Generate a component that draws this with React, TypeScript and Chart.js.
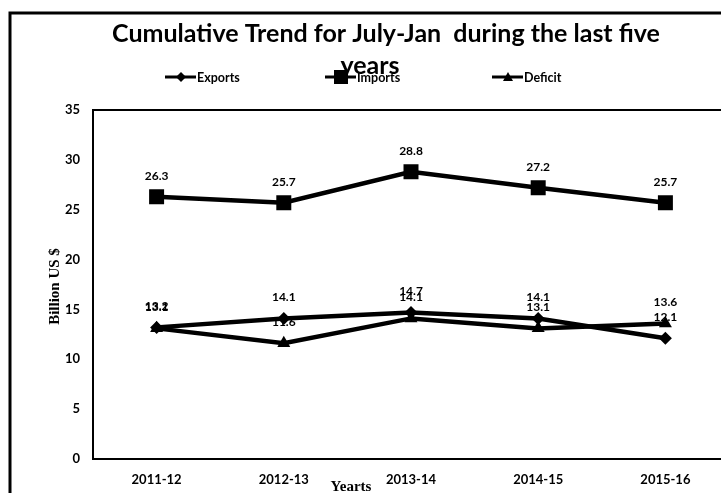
import React, { useEffect, useRef } from "react";
import { Chart, registerables } from "chart.js";

Chart.register(...registerables);

const categories = ["2011-12", "2012-13", "2013-14", "2014-15", "2015-16"];
const exportsValues = [13.2, 14.1, 14.7, 14.1, 12.1];
const importsValues = [26.3, 25.7, 28.8, 27.2, 25.7];
const deficitValues = [13.1, 11.6, 14.1, 13.1, 13.6];
const seriesNames = ["Exports", "Imports", "Deficit"];
const titleLines = ["Cumulative Trend for July-Jan  during the last five", "years"];
const yTitle = "Billion US $";
const xTitle = "Yearts";

const SANS = "Lato, 'Open Sans', sans-serif";
const SERIF = "'Liberation Serif', 'DejaVu Serif', serif";

function drawMarker(ctx: CanvasRenderingContext2D, style: string, x: number, y: number, r: number) {
  ctx.beginPath();
  if (style === "rectRot") {
    ctx.moveTo(x, y - r);
    ctx.lineTo(x + r, y);
    ctx.lineTo(x, y + r);
    ctx.lineTo(x - r, y);
    ctx.closePath();
  } else if (style === "rect") {
    ctx.rect(x - r, y - r, 2 * r, 2 * r);
  } else {
    ctx.moveTo(x, y - r);
    ctx.lineTo(x + r, y + r * 0.8);
    ctx.lineTo(x - r, y + r * 0.8);
    ctx.closePath();
  }
  ctx.fill();
}

const decorPlugin = {
  id: "decor",
  beforeDraw(chart: any) {
    const ctx = chart.ctx;
    ctx.save();
    ctx.fillStyle = "#ffffff";
    ctx.fillRect(0, 0, chart.width, chart.height);
    ctx.restore();
  },
  afterDraw(chart: any) {
    const ctx: CanvasRenderingContext2D = chart.ctx;
    const a = chart.chartArea;
    ctx.save();
    // outer frame
    ctx.strokeStyle = "#000";
    ctx.lineWidth = 3;
    ctx.beginPath();
    ctx.moveTo(10, chart.height);
    ctx.lineTo(10, 13);
    ctx.lineTo(chart.width, 13);
    ctx.stroke();
    // plot border
    ctx.lineWidth = 2;
    ctx.strokeRect(a.left, a.top, a.right - a.left, a.bottom - a.top);

    // title
    ctx.fillStyle = "#000";
    ctx.textAlign = "center";
    ctx.textBaseline = "middle";
    ctx.font = `bold 25px ${SANS}`;
    ctx.fillText(titleLines[0], 386, 34);
    ctx.fillText(titleLines[1], 370, 66);

    // legend
    const legendX = [165, 325, 492];
    const styles = ["rectRot", "rect", "triangle"];
    const sizes = [5, 7, 5];
    ctx.font = `bold 12.5px ${SANS}`;
    ctx.textAlign = "left";
    for (let i = 0; i < 3; i++) {
      const lx = legendX[i];
      const ly = 77;
      ctx.lineWidth = 3;
      ctx.beginPath();
      ctx.moveTo(lx, ly);
      ctx.lineTo(lx + 31, ly);
      ctx.stroke();
      drawMarker(ctx, styles[i], lx + 16, ly, sizes[i]);
      ctx.fillText(seriesNames[i], lx + 32, ly + 1);
    }

    // data labels
    ctx.font = `bold 12px ${SANS}`;
    ctx.textAlign = "center";
    chart.data.datasets.forEach((ds: any, di: number) => {
      const meta = chart.getDatasetMeta(di);
      meta.data.forEach((pt: any, i: number) => {
        ctx.fillText(String(ds.data[i]), pt.x, pt.y - 21);
      });
    });

    // axis titles
    ctx.font = `bold 15px ${SERIF}`;
    ctx.fillText(xTitle, 351, 487);
    ctx.translate(55, (a.top + a.bottom) / 2 + 2);
    ctx.rotate(-Math.PI / 2);
    ctx.fillText(yTitle, 0, 0);
    ctx.restore();
  },
};

export default function App() {
  const ref = useRef<HTMLCanvasElement>(null);
  useEffect(() => {
    if (!ref.current) return;
    const common = { borderColor: "#000", backgroundColor: "#000", borderWidth: 4.5, pointBackgroundColor: "#000", pointBorderColor: "#000", pointBorderWidth: 0, tension: 0 };
    const chart = new Chart(ref.current, {
      type: "line",
      data: {
        labels: categories,
        datasets: [
          { ...common, label: seriesNames[0], data: exportsValues, pointStyle: "rectRot", pointRadius: 6.5 },
          { ...common, label: seriesNames[1], data: importsValues, pointStyle: "rect", pointRadius: 10.6 },
          { ...common, label: seriesNames[2], data: deficitValues, pointStyle: "triangle", pointRadius: 7.5 },
        ],
      },
      options: {
        responsive: false,
        maintainAspectRatio: false,
        animation: false,
        layout: { padding: { left: 10, top: 110, right: 11, bottom: 0 } },
        plugins: { legend: { display: false }, title: { display: false }, tooltip: { enabled: false } },
        scales: {
          x: {
            type: "category",
            offset: true,
            grid: { display: false, drawTicks: false },
            border: { display: false },
            ticks: { color: "#000", font: { family: SANS, weight: "bold", size: 13 }, padding: 13, maxRotation: 0 },
            afterFit: (s: any) => { s.height = 34; },
          },
          y: {
            min: 0,
            max: 35,
            grid: { display: false, drawTicks: false },
            border: { display: false },
            ticks: { stepSize: 5, color: "#000", font: { family: SANS, weight: "bold", size: 13 }, padding: 13 },
            afterFit: (s: any) => { s.width = 83; },
          },
        },
      },
      plugins: [decorPlugin],
    });
    return () => chart.destroy();
  }, []);
  return (
    <div style={{ position: "fixed", left: 0, top: 0, width: 721, height: 493, overflow: "hidden", background: "#fff" }}>
      <canvas ref={ref} width={740} height={493} style={{ width: 740, height: 493, display: "block" }} />
    </div>
  );
}
